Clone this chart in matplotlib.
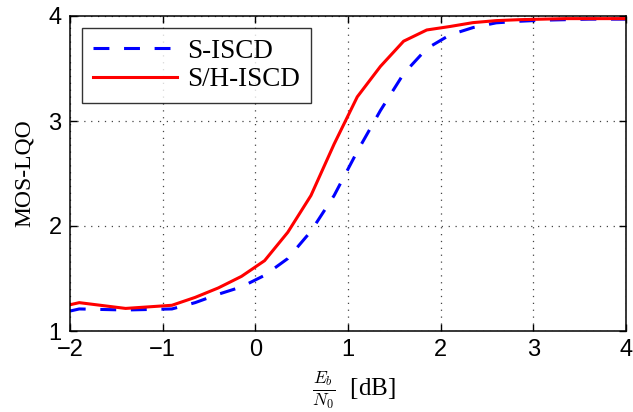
import matplotlib
matplotlib.use("Agg")
import matplotlib.pyplot as plt

# Data
ebn0 = [-2.0, -1.9, -1.4, -0.9, -0.65, -0.4, -0.15, 0.1, 0.35, 0.6, 0.85, 1.1,
        1.35, 1.6, 1.85, 2.1, 2.35, 2.6, 2.85, 3.1, 3.35, 3.6, 3.85, 4.0]
s_iscd = [1.19, 1.21, 1.20, 1.21, 1.27, 1.35, 1.42, 1.53, 1.69, 1.95, 2.29, 2.71,
          3.10, 3.45, 3.69, 3.82, 3.89, 3.935, 3.95, 3.96, 3.965, 3.97, 3.97, 3.97]
sh_iscd = [1.25, 1.27, 1.215, 1.245, 1.32, 1.41, 1.52, 1.67, 1.94, 2.29, 2.78, 3.23,
           3.52, 3.76, 3.867, 3.90, 3.937, 3.956, 3.965, 3.97, 3.975, 3.975, 3.975, 3.975]
xticks = [-2, -1, 0, 1, 2, 3, 4]
xticklabels = ['\u22122', '\u22121', '0', '1', '2', '3', '4']
yticks = [1, 2, 3, 4]

plt.rcParams['mathtext.fontset'] = 'cm'

fig = plt.figure(figsize=(6.33, 4.12), dpi=100)
ax = fig.add_axes([70/633, 1 - 331/412, (626-70)/633, (331-16)/412])

ax.plot(ebn0, s_iscd, color='#0000ff', linestyle=(0, (5.2, 4.8)), linewidth=2.2,
        label='S-ISCD')
ax.plot(ebn0, sh_iscd, color='#ff0000', linestyle='-', linewidth=2.2,
        label='S/H-ISCD')

ax.set_xlim(-2, 4)
ax.set_ylim(1, 4)
ax.set_xticks(xticks)
ax.set_yticks(yticks)
ax.set_xticklabels(xticklabels)
ax.tick_params(axis='both', which='both', direction='in', length=5, width=1,
               top=True, right=True, labelsize=17, pad=6)
for lab in ax.get_xticklabels() + ax.get_yticklabels():
    lab.set_family('Liberation Sans')
ax.grid(True, linestyle=(0, (1, 4.5)), color='#444444', linewidth=0.9)
for sp in ax.spines.values():
    sp.set_linewidth(1.1)

ax.set_ylabel('MOS-LQO', family='Liberation Serif', fontsize=17, labelpad=10)
ax.set_xlabel(r'$\frac{E_b}{N_0}\ $ [dB]', family='Liberation Serif', fontsize=18,
              labelpad=2)
ax.xaxis.set_label_coords(0.511, -0.124)

leg = ax.legend(loc='upper left', bbox_to_anchor=(0.0, 1.0),
                prop={'family': 'Liberation Serif', 'size': 19.5},
                frameon=True, fancybox=False, edgecolor='black',
                handlelength=3.1, borderpad=0.4, labelspacing=0.12,
                handletextpad=0.4, borderaxespad=0.44)
leg.get_frame().set_linewidth(1.0)

fig.savefig('out.png', dpi=100)
